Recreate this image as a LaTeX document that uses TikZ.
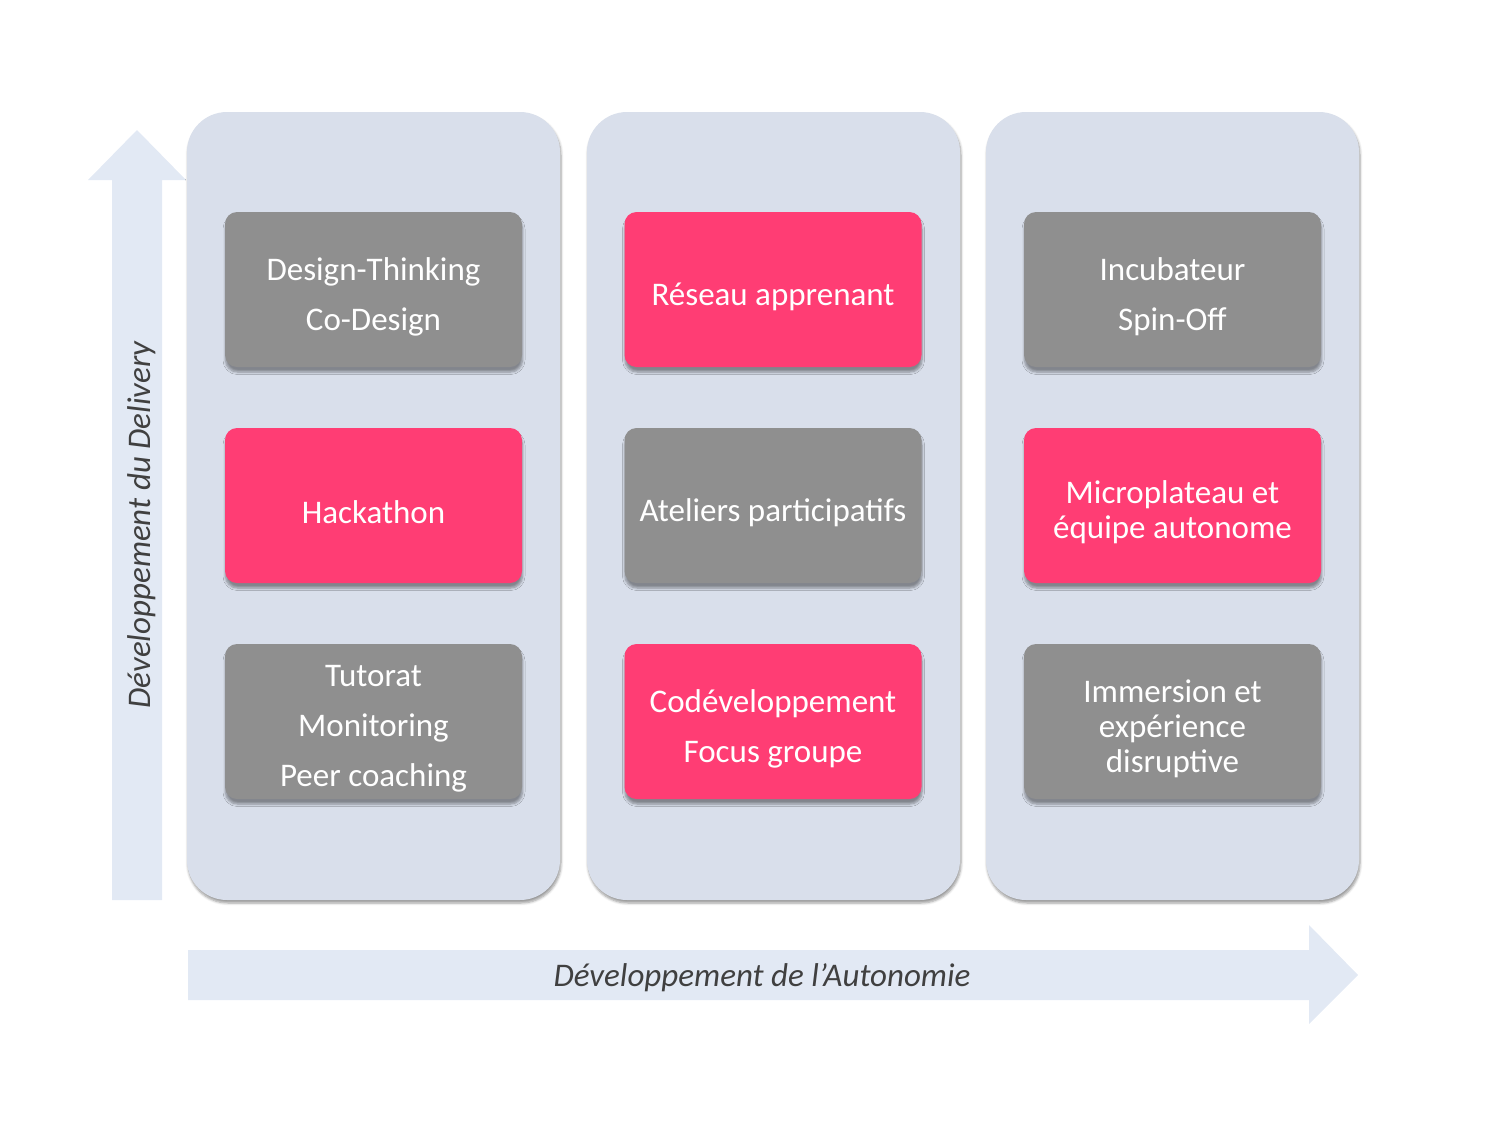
\documentclass[tikz,border=0pt]{standalone}
\usepackage{fontspec}
\setmainfont{Carlito}
\usetikzlibrary{shadows,shadows.blur}
\definecolor{colfill}{HTML}{D9DFEB}
\definecolor{arrowfill}{HTML}{E2E9F4}
\definecolor{boxgray}{HTML}{8F8F8F}
\definecolor{boxpink}{HTML}{FF3D74}
\definecolor{labelgray}{HTML}{404040}
\tikzset{
  column/.style={rectangle, rounded corners=40pt, fill=colfill, minimum width=373pt, minimum height=788pt, inner sep=0pt,
    blur shadow={shadow xshift=1pt, shadow yshift=-3pt, shadow blur steps=5, shadow blur radius=2.5pt, shadow opacity=40}},
  card/.style={rectangle, rounded corners=12pt, minimum width=297pt, minimum height=155pt, inner sep=0pt,
    blur shadow={shadow xshift=0.5pt, shadow yshift=-5pt, shadow blur steps=5, shadow blur radius=2.5pt, shadow opacity=40}},
  gcard/.style={card, fill=boxgray},
  pcard/.style={card, fill=boxpink},
  cardtext/.style={align=center, text=white, inner sep=0pt, font=\fontsize{33}{50}\selectfont},
  tight/.style={font=\fontsize{33}{35}\selectfont},
  axislabel/.style={text=labelgray, font=\fontsize{33}{36}\selectfont\itshape, inner sep=0pt}
}
\begin{document}
\begin{tikzpicture}[x=1pt,y=-1pt]
\useasboundingbox (0,0) rectangle (1500,1125);
% axis arrows
\fill[arrowfill] (112,900) -- (112,180) -- (88,180) -- (137,130) -- (186,180) -- (162,180) -- (162,900) -- cycle;
\fill[arrowfill] (188,950) -- (1309,950) -- (1309,925) -- (1358,975) -- (1309,1024) -- (1309,1000) -- (188,1000) -- cycle;
% columns
\node[column] (c1) at (373.5,506) {};
\node[column] (c2) at (773.5,506) {};
\node[column] (c3) at (1172.5,506) {};
% cards
\node[gcard] (a1) at (373.5,289.5) {};
\node[pcard] (a2) at (373.5,505.5) {};
\node[gcard] (a3) at (373.5,721.5) {};
\node[pcard] (b1) at (773,289.5) {};
\node[gcard] (b2) at (773,505.5) {};
\node[pcard] (b3) at (773,721.5) {};
\node[gcard] (d1) at (1172.5,289.5) {};
\node[pcard] (d2) at (1172.5,505.5) {};
\node[gcard] (d3) at (1172.5,721.5) {};
% card texts
\node[cardtext] (a1t) at ([yshift=-7pt]a1.center) {Design-Thinking\\Co-Design};
\node[cardtext] (a2t) at ([yshift=-7pt]a2.center) {Hackathon};
\node[cardtext] (a3t) at ([yshift=-7pt]a3.center) {Tutorat\\Monitoring\\Peer coaching};
\node[cardtext] (b1t) at ([yshift=-7pt]b1.center) {Réseau apprenant};
\node[cardtext] (b2t) at ([yshift=-7pt]b2.center) {Ateliers participatifs};
\node[cardtext] (b3t) at ([yshift=-7pt]b3.center) {Codéveloppement\\Focus groupe};
\node[cardtext] (d1t) at ([yshift=-7pt]d1.center) {Incubateur\\Spin-Off};
\node[cardtext,tight] (d2t) at ([yshift=-7pt]d2.center) {Microplateau et\\équipe autonome};
\node[cardtext,tight] (d3t) at ([yshift=-7pt]d3.center) {Immersion et\\expérience\\disruptive};
% axis labels
\node[axislabel, rotate=90] (ly) at (142,525) {Développement du Delivery};
\node[axislabel] (lx) at (762,978) {Développement de l’Autonomie};
\end{tikzpicture}
\end{document}
